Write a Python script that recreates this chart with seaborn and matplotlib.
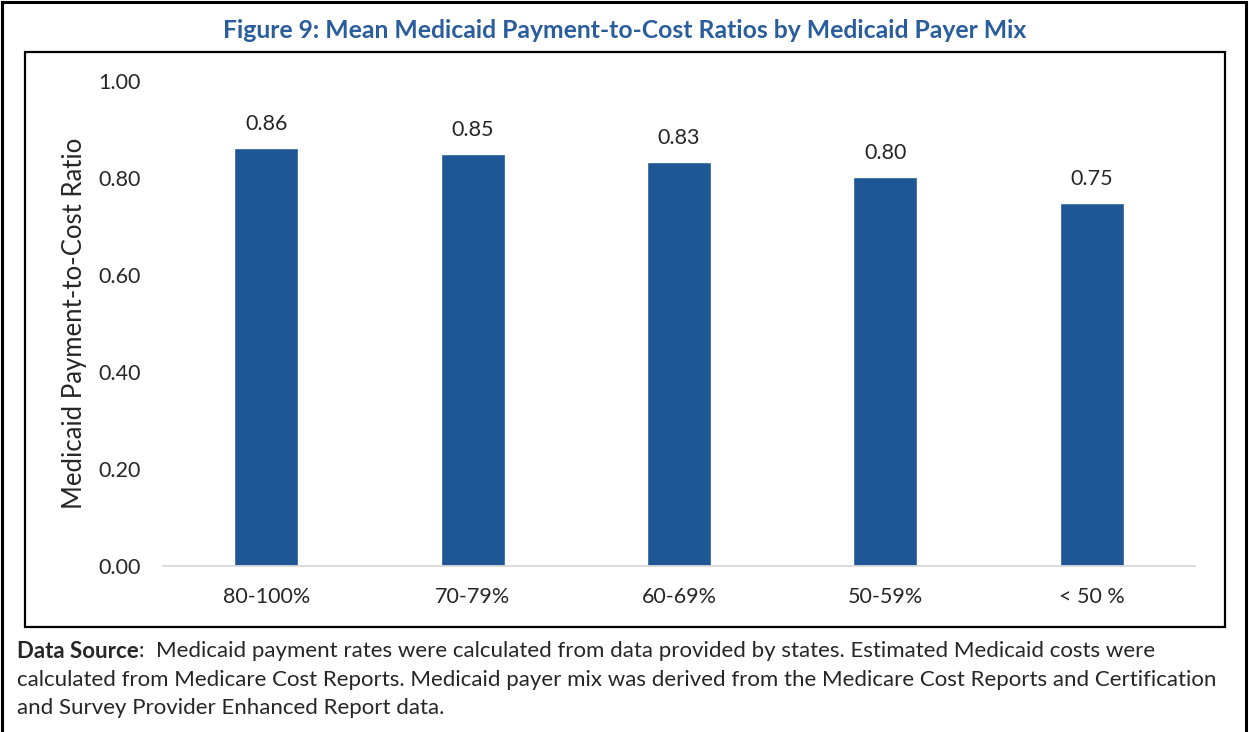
import matplotlib
matplotlib.use("Agg")
import matplotlib.pyplot as plt
import matplotlib.patches as mpatches
import seaborn as sns
import pandas as pd

# Chart data
payer_mix = ["80-100%", "70-79%", "60-69%", "50-59%", "< 50 %"]
ratio = [0.862, 0.849, 0.833, 0.802, 0.748]

title = "Figure 9: Mean Medicaid Payment-to-Cost Ratios by Medicaid Payer Mix"
ylabel = "Medicaid Payment-to-Cost Ratio"
yticks = [0.0, 0.2, 0.4, 0.6, 0.8, 1.0]
note_bold = "Data Source"
note_lines = [
    ":  Medicaid payment rates were calculated from data provided by states. Estimated Medicaid costs were",
    "calculated from Medicare Cost Reports. Medicaid payer mix was derived from the Medicare Cost Reports and Certification",
    "and Survey Provider Enhanced Report data.",
]

df = pd.DataFrame({"mix": payer_mix, "ratio": ratio})

sns.set_style("white")
plt.rcParams["font.family"] = ["Lato", "DejaVu Sans"]

W, H = 1249, 732
fig = plt.figure(figsize=(W / 100, H / 100), dpi=100)

# outer frame and inner chart frame (pixel coords -> figure fraction)
def frac_rect(x0, y0, x1, y1, lw):
    return mpatches.Rectangle((x0 / W, 1 - y1 / H), (x1 - x0) / W, (y1 - y0) / H,
                              transform=fig.transFigure, fill=False,
                              edgecolor="black", linewidth=lw, zorder=0)

fig.patches.append(frac_rect(2, 2, 1246, 760, 2.2))
fig.patches.append(frac_rect(25, 52, 1225, 627, 1.6))

ax = fig.add_axes([163 / W, 1 - 566 / H, (1195 - 163) / W, (566 - 81) / H])
sns.barplot(data=df, x="mix", y="ratio", color="#1F5695", saturation=1,
            width=0.31, ax=ax)

ax.set_ylim(0, 1.0)
ax.set_yticks(yticks)
ax.set_yticklabels([f"{v:.2f}" for v in yticks], fontsize=15.5)
ax.tick_params(axis="y", length=0, pad=16)
ax.tick_params(axis="x", length=0, pad=15, labelsize=15.5)
ax.set_xlabel("")
ax.set_ylabel(ylabel, fontsize=18.5, labelpad=8)
for s in ["top", "right", "left"]:
    ax.spines[s].set_visible(False)
ax.spines["bottom"].set_color("#D9D9D9")
ax.spines["bottom"].set_linewidth(1.3)

ax.bar_label(ax.containers[0], fmt="%.2f", padding=10, fontsize=15.5)

fig.text(625 / W, 1 - 30 / H, title, ha="center", va="center",
         fontsize=17.8, fontweight="bold", color="#2A5D9B")

# footnote with bold lead-in
y0 = 651
fs = 16
t = fig.text(17 / W, 1 - y0 / H, note_bold, ha="left", va="center",
             fontsize=fs, fontweight="bold")
fig.canvas.draw()
bb = t.get_window_extent(renderer=fig.canvas.get_renderer())
fig.text(bb.x1 / W, 1 - y0 / H, note_lines[0], ha="left", va="center", fontsize=fs)
for i, line in enumerate(note_lines[1:], start=1):
    fig.text(17 / W, 1 - (y0 + 28.5 * i) / H, line, ha="left", va="center", fontsize=fs)

fig.savefig("out.png", dpi=100)
